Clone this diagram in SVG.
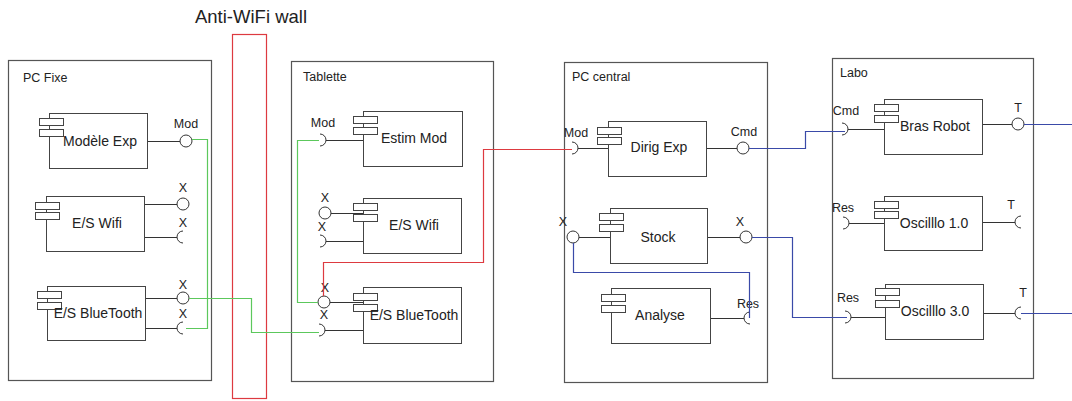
<svg xmlns="http://www.w3.org/2000/svg" width="1072" height="401" viewBox="0 0 1072 401">
<style>
.container{fill:#fff;stroke:#555;stroke-width:1.2}
.comp{fill:#fff;stroke:#444;stroke-width:1}
.icon{fill:#fff;stroke:#444;stroke-width:1}
.port{fill:none;stroke:#333;stroke-width:1}
.ball{fill:#fff;stroke:#333;stroke-width:1}
.clbl{font-family:"Liberation Sans",Arial,sans-serif;font-size:12.5px;fill:#222}
.lbl{font-family:"Liberation Sans",Arial,sans-serif;font-size:12.5px;fill:#222;text-anchor:middle}
.ctext{font-family:"Liberation Sans",Arial,sans-serif;font-size:14px;fill:#222;text-anchor:middle}
.title{font-family:"Liberation Sans",Arial,sans-serif;font-size:18.5px;fill:#222;text-anchor:middle}
.wall{fill:none;stroke:#dd3a40;stroke-width:1.2}
.green{fill:none;stroke:#5cc85c;stroke-width:1.2}
.red{fill:none;stroke:#dd3a40;stroke-width:1.2}
.blue{fill:none;stroke:#3a4aa8;stroke-width:1.2}
</style>
<rect width="1072" height="401" fill="#fff"/>

<g id="wall">
<text x="251" y="23" class="title">Anti-WiFi wall</text>
<rect x="232.5" y="34.5" width="34" height="364" class="wall"/>
</g>

<g id="pc-fixe">
<rect x="8.5" y="60.5" width="203" height="320" class="container"/>
<text x="23" y="82" class="clbl">PC Fixe</text>
</g>
<g id="tablette">
<rect x="291.5" y="61.5" width="202" height="320" class="container"/>
<text x="303" y="81" class="clbl">Tablette</text>
</g>
<g id="pc-central">
<rect x="564.5" y="62.5" width="203" height="320" class="container"/>
<text x="572" y="81" class="clbl">PC central</text>
</g>
<g id="labo">
<rect x="832.5" y="58.5" width="201" height="320" class="container"/>
<text x="840" y="77" class="clbl">Labo</text>
</g>

<!-- PC Fixe components -->
<g id="modele-exp">
<path d="M147.5,141.5H180" class="port"/>
<circle cx="186" cy="141" r="6" class="ball"/>
<text x="186" y="128" class="lbl">Mod</text>
<rect x="49.5" y="113.5" width="98" height="55" class="comp"/>
<rect x="39.5" y="118.5" width="24" height="7" class="icon"/>
<rect x="39.5" y="129.5" width="24" height="7" class="icon"/>
<text x="100" y="146" class="ctext">Modèle Exp</text>
</g>
<g id="es-wifi-fixe">
<path d="M144.5,204.5H177M144.5,237.5H177" class="port"/>
<circle cx="183" cy="204" r="6" class="ball"/>
<path d="M183,231A6,6 0 0 0 183,243" class="port"/>
<text x="183" y="192" class="lbl">X</text>
<text x="183" y="227" class="lbl">X</text>
<rect x="46.5" y="196.5" width="98" height="55" class="comp"/>
<rect x="35.5" y="202.5" width="24" height="7" class="icon"/>
<rect x="35.5" y="212.5" width="24" height="7" class="icon"/>
<text x="97" y="228" class="ctext">E/S Wifi</text>
</g>
<g id="es-bt-fixe">
<path d="M145.5,298.5H177M145.5,328.5H177" class="port"/>
<circle cx="183" cy="298" r="6" class="ball"/>
<path d="M183,322A6,6 0 0 0 183,334" class="port"/>
<text x="183" y="289" class="lbl">X</text>
<text x="183" y="318" class="lbl">X</text>
<rect x="47.5" y="286.5" width="98" height="54" class="comp"/>
<rect x="37.5" y="291.5" width="24" height="7" class="icon"/>
<rect x="37.5" y="302.5" width="24" height="7" class="icon"/>
<text x="98" y="318" class="ctext">E/S BlueTooth</text>
</g>

<!-- Tablette components -->
<g id="estim-mod">
<path d="M326,140.5H363.5" class="port"/>
<path d="M320,134A6,6 0 0 1 320,146" class="port"/>
<text x="323" y="127" class="lbl">Mod</text>
<rect x="363.5" y="111.5" width="99" height="55" class="comp"/>
<rect x="353.5" y="116.5" width="24" height="7" class="icon"/>
<rect x="353.5" y="127.5" width="24" height="7" class="icon"/>
<text x="414" y="143" class="ctext">Estim Mod</text>
</g>
<g id="es-wifi-tab">
<path d="M331,213.5H363.5M326,241.5H363.5" class="port"/>
<circle cx="325" cy="213" r="6" class="ball"/>
<path d="M320,235A6,6 0 0 1 320,247" class="port"/>
<text x="325" y="202" class="lbl">X</text>
<text x="322" y="231" class="lbl">X</text>
<rect x="363.5" y="198.5" width="98" height="55" class="comp"/>
<rect x="353.5" y="203.5" width="24" height="7" class="icon"/>
<rect x="353.5" y="214.5" width="24" height="7" class="icon"/>
<text x="414" y="230" class="ctext">E/S Wifi</text>
</g>
<g id="es-bt-tab">
<path d="M330,302.5H363.5M325,330.5H363.5" class="port"/>
<circle cx="324" cy="302" r="6" class="ball"/>
<path d="M319,324A6,6 0 0 1 319,336" class="port"/>
<text x="325" y="292" class="lbl">X</text>
<text x="324" y="319" class="lbl">X</text>
<rect x="363.5" y="287.5" width="98" height="56" class="comp"/>
<rect x="353.5" y="293.5" width="24" height="7" class="icon"/>
<rect x="353.5" y="304.5" width="24" height="7" class="icon"/>
<text x="414" y="320" class="ctext">E/S BlueTooth</text>
</g>

<!-- PC central components -->
<g id="dirig-exp">
<path d="M578,148.5H608.5M706.5,148.5H737" class="port"/>
<path d="M572,142A6,6 0 0 1 572,154" class="port"/>
<circle cx="743" cy="148" r="6" class="ball"/>
<text x="576" y="137" class="lbl">Mod</text>
<text x="744" y="136" class="lbl">Cmd</text>
<rect x="608.5" y="121.5" width="98" height="55" class="comp"/>
<rect x="597.5" y="127.5" width="24" height="7" class="icon"/>
<rect x="597.5" y="137.5" width="24" height="7" class="icon"/>
<text x="659" y="152" class="ctext">Dirig Exp</text>
</g>
<g id="stock">
<path d="M579,237.5H610.5M707.5,237.5H740" class="port"/>
<circle cx="573" cy="237" r="6" class="ball"/>
<circle cx="746" cy="237" r="6" class="ball"/>
<text x="563" y="226" class="lbl">X</text>
<text x="740" y="226" class="lbl">X</text>
<rect x="610.5" y="208.5" width="97" height="55" class="comp"/>
<rect x="599.5" y="213.5" width="24" height="7" class="icon"/>
<rect x="599.5" y="224.5" width="24" height="7" class="icon"/>
<text x="658" y="242" class="ctext">Stock</text>
</g>
<g id="analyse">
<path d="M710.5,318.5H744" class="port"/>
<path d="M750,312A6,6 0 0 0 750,324" class="port"/>
<text x="748" y="308" class="lbl">Res</text>
<rect x="611.5" y="288.5" width="99" height="55" class="comp"/>
<rect x="601.5" y="294.5" width="24" height="7" class="icon"/>
<rect x="601.5" y="305.5" width="24" height="7" class="icon"/>
<text x="660" y="320" class="ctext">Analyse</text>
</g>

<!-- Labo components -->
<g id="bras-robot">
<path d="M848,129.5H884.5M982.5,124.5H1012" class="port"/>
<path d="M842,123A6,6 0 0 1 842,135" class="port"/>
<circle cx="1018" cy="124" r="6" class="ball"/>
<text x="846" y="115" class="lbl">Cmd</text>
<text x="1018" y="112" class="lbl">T</text>
<rect x="884.5" y="99.5" width="98" height="55" class="comp"/>
<rect x="874.5" y="104.5" width="24" height="7" class="icon"/>
<rect x="874.5" y="115.5" width="24" height="7" class="icon"/>
<text x="935" y="131" class="ctext">Bras Robot</text>
</g>
<g id="oscillo-1">
<path d="M849,223.5H884.5M982.5,222.5H1015" class="port"/>
<path d="M843,217A6,6 0 0 1 843,229" class="port"/>
<path d="M1021,216A6,6 0 0 0 1021,228" class="port"/>
<text x="843" y="212" class="lbl">Res</text>
<text x="1011" y="209" class="lbl">T</text>
<rect x="884.5" y="196.5" width="98" height="54" class="comp"/>
<rect x="874.5" y="201.5" width="24" height="7" class="icon"/>
<rect x="874.5" y="211.5" width="24" height="7" class="icon"/>
<text x="934" y="228" class="ctext">Oscilllo 1.0</text>
</g>
<g id="oscillo-3">
<path d="M851,317.5H885.5M983.5,313.5H1015" class="port"/>
<path d="M845,311A6,6 0 0 1 845,323" class="port"/>
<path d="M1021,307A6,6 0 0 0 1021,319" class="port"/>
<text x="848" y="302" class="lbl">Res</text>
<text x="1023" y="297" class="lbl">T</text>
<rect x="885.5" y="284.5" width="98" height="55" class="comp"/>
<rect x="875.5" y="288.5" width="24" height="7" class="icon"/>
<rect x="875.5" y="300.5" width="24" height="7" class="icon"/>
<text x="935" y="316" class="ctext">Oscilllo 3.0</text>
</g>

<g id="connectors">
<path d="M192,139.5H207.5V328.5H186" class="green"/>
<path d="M189,298.5H251.5V332.5H319" class="green"/>
<path d="M319,140.5H297.5V302.5H318" class="green"/>
<path d="M323.5,296V262.5H483.5V149.5H572" class="red"/>
<path d="M749,148.5H805.5V131.5H845" class="blue"/>
<path d="M752,237.5H792.5V317.5H847" class="blue"/>
<path d="M573.5,243V272.5H749.5V318" class="blue"/>
<path d="M1024,124.5H1072" class="blue"/>
<path d="M1021,313.5H1072" class="blue"/>
</g>
</svg>
